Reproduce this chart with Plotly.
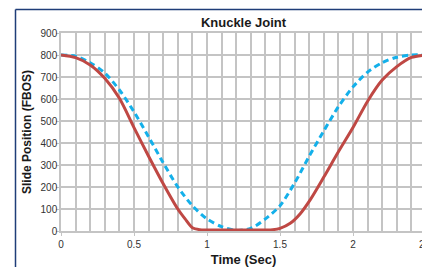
import plotly.graph_objects as go

# Data
time_blue = [0, 0.1, 0.2, 0.3, 0.4, 0.5, 0.6, 0.7, 0.8, 0.9, 1.0, 1.1, 1.2, 1.3,
             1.4, 1.5, 1.6, 1.7, 1.8, 1.9, 2.0, 2.1, 2.2, 2.3, 2.4, 2.5]
pos_blue = [800, 795, 765, 718, 641, 542, 428, 310, 200, 115, 55, 20, 3, 12,
            55, 115, 218, 340, 455, 565, 655, 722, 765, 790, 800, 800]

time_red = [0, 0.1, 0.2, 0.3, 0.4, 0.5, 0.6, 0.7, 0.8, 0.85, 0.9, 0.95, 1.0, 1.1,
            1.2, 1.3, 1.4, 1.45, 1.5, 1.57, 1.64, 1.71, 1.8, 1.9, 2.0, 2.1, 2.2,
            2.3, 2.4, 2.5]
pos_red = [800, 788, 755, 694, 603, 470, 340, 215, 100, 55, 15, 6, 5, 5,
           5, 5, 5, 6, 12, 35, 80, 145, 245, 360, 470, 590, 686,
           747, 789, 800]

x_ticks = [0, 0.5, 1, 1.5, 2, 2.5]
x_tick_labels = ["0", "0.5", "1", "1.5", "2", "2.5"]
y_ticks = [0, 100, 200, 300, 400, 500, 600, 700, 800, 900]

W, H = 422, 259  # page has an 8px body margin
fig = go.Figure()
fig.add_trace(go.Scatter(
    x=time_blue, y=pos_blue, mode="lines",
    line=dict(color="#14b0ea", width=3, dash="6px,4px", shape="spline", smoothing=0.8),
    hoverinfo="skip", showlegend=False))
fig.add_trace(go.Scatter(
    x=time_red, y=pos_red, mode="lines",
    line=dict(color="#bf4844", width=3, shape="spline", smoothing=0.8),
    hoverinfo="skip", showlegend=False))

grid = "#c4c4c4"
fig.update_layout(
    width=W, height=H,
    margin=dict(l=53, r=4, t=25, b=36),
    paper_bgcolor="white", plot_bgcolor="white",
    font=dict(family="Liberation Sans, Arial, sans-serif", color="#333333", size=10),
    title=dict(text="<b>Knuckle Joint</b>", x=(235.5) / W, xanchor="center",
               y=1 - 14.5 / H, yanchor="middle",
               font=dict(size=13, color="#1a1a1a")),
    xaxis=dict(range=[0, 2.5], tickvals=x_ticks, ticktext=x_tick_labels,
               showgrid=True, gridcolor=grid, gridwidth=1.5,
               minor=dict(dtick=0.1, showgrid=True, gridcolor=grid, gridwidth=1.5),
               showline=True, linecolor=grid, linewidth=1.5, mirror=True,
               ticks="outside", ticklen=3, tickcolor=grid, zeroline=False,
               ticklabeloverflow="allow",
               automargin=False, tickfont=dict(size=10, color="#333333"),
               title=dict(text="<b>Time (Sec)</b>", font=dict(size=13, color="#1a1a1a"),
                          standoff=6)),
    yaxis=dict(range=[0, 900], tickvals=y_ticks,
               showgrid=True, gridcolor=grid, gridwidth=1.5,
               showline=True, linecolor=grid, linewidth=1.5, mirror=True,
               ticks="outside", ticklen=3, tickcolor=grid, zeroline=False,
               ticklabelstandoff=-3, ticklabeloverflow="allow",
               automargin=False, tickfont=dict(size=10, color="#333333"),
               title=dict(text="<b>Slide Position (FBOS)</b>",
                          font=dict(size=12, color="#1a1a1a"), standoff=6)),
)

# Outer frame (left and top border lines)
frame_color = "#1f3d78"
x_left = (7.5 - 53) / 365
y_top = (223 - 1.5) / 198
fig.add_shape(type="line", xref="paper", yref="paper",
              x0=x_left, x1=x_left, y0=-0.5, y1=y_top,
              line=dict(color=frame_color, width=1.5))
fig.add_shape(type="line", xref="paper", yref="paper",
              x0=x_left, x1=1.5, y0=y_top, y1=y_top,
              line=dict(color=frame_color, width=1.5))

fig.write_html("out.html")
